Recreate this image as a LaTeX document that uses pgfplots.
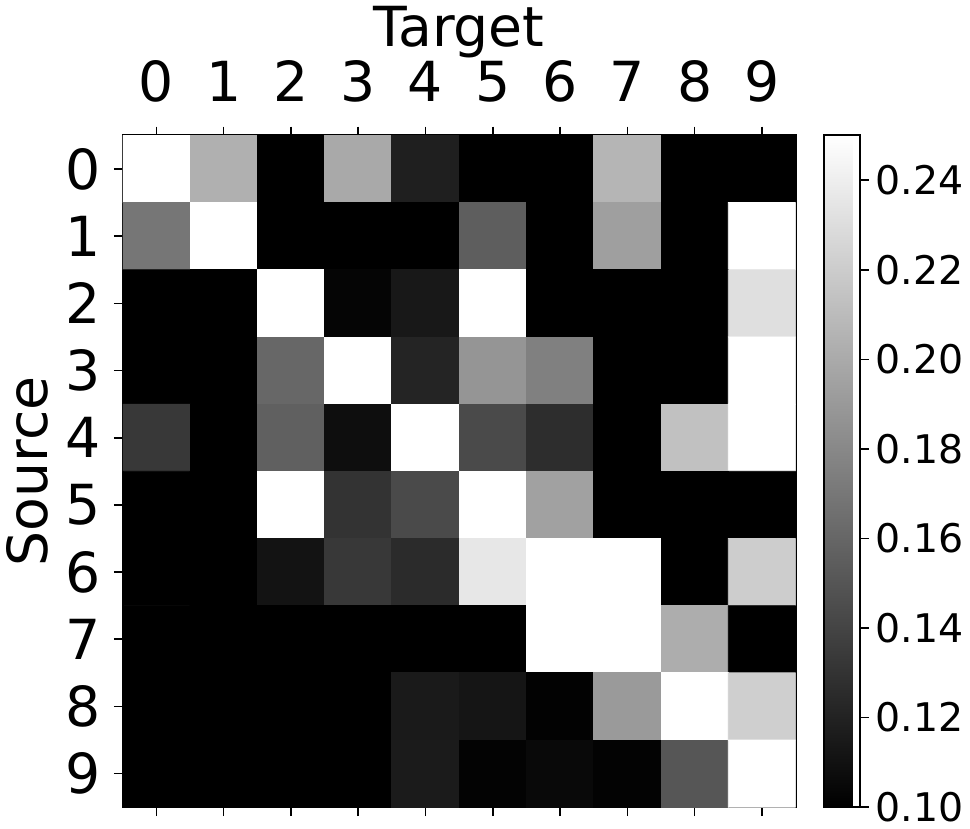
\documentclass[border=0pt]{standalone}
\usepackage{fontspec}
\setmainfont{DejaVu Sans}
\usepackage{pgfplots}
\pgfplotsset{compat=1.18}
\begin{document}
\begin{tikzpicture}
\begin{axis}[
  scale only axis, width=341pt, height=340.5pt,
  xmin=-0.5, xmax=9.5, ymin=-0.5, ymax=9.5, y dir=reverse,
  xtick={0,...,9}, ytick={0,...,9},
  xticklabel pos=right,
  xtick pos=both, ytick pos=left, tick align=outside,
  major tick length=4.5pt,
  xticklabel shift=9pt, yticklabel shift=3pt,
  every tick/.style={black, line width=0.8pt},
  axis line style={line width=1pt},
  xlabel={Target}, ylabel={Source},
  xlabel style={at={([yshift=-6pt]ticklabel cs:0.5)}},
  ylabel style={at={([xshift=-2pt]ticklabel cs:0.5)}},
  ticklabel style={font=\fontsize{28}{30}\selectfont},
  label style={font=\fontsize{28}{30}\selectfont},
  /pgf/number format/assume math mode=true,
  colormap/blackwhite,
  point meta min=0.10, point meta max=0.25,
  colorbar,
  colorbar style={
    width=18pt,
    at={(parent axis.north east)}, anchor=north west, xshift=6pt,
    ytick={0.10,0.12,0.14,0.16,0.18,0.20,0.22,0.24},
    ytick pos=right, yticklabel pos=right, tick align=outside,
    major tick length=4.5pt,
    yticklabel shift=0pt,
    every tick/.style={black, line width=0.8pt},
    axis line style={line width=1pt},
    yticklabel style={font=\fontsize{20}{22}\selectfont,
      /pgf/number format/.cd, fixed, fixed zerofill, precision=2, assume math mode=true},
  },
]
\addplot[matrix plot*, mesh/cols=10, point meta=explicit] table[meta=c] {
x y c
0 0 0.25
1 0 0.203
2 0 0.10
3 0 0.199
4 0 0.118
5 0 0.10
6 0 0.10
7 0 0.206
8 0 0.10
9 0 0.10
0 1 0.169
1 1 0.25
2 1 0.10
3 1 0.10
4 1 0.10
5 1 0.155
6 1 0.10
7 1 0.193
8 1 0.10
9 1 0.25
0 2 0.10
1 2 0.10
2 2 0.25
3 2 0.103
4 2 0.114
5 2 0.25
6 2 0.10
7 2 0.10
8 2 0.10
9 2 0.230
0 3 0.10
1 3 0.10
2 3 0.160
3 3 0.25
4 3 0.121
5 3 0.187
6 3 0.175
7 3 0.10
8 3 0.10
9 3 0.25
0 4 0.133
1 4 0.10
2 4 0.156
3 4 0.108
4 4 0.25
5 4 0.143
6 4 0.126
7 4 0.10
8 4 0.213
9 4 0.25
0 5 0.10
1 5 0.10
2 5 0.25
3 5 0.130
4 5 0.143
5 5 0.25
6 5 0.194
7 5 0.10
8 5 0.10
9 5 0.10
0 6 0.10
1 6 0.10
2 6 0.111
3 6 0.133
4 6 0.125
5 6 0.235
6 6 0.25
7 6 0.25
8 6 0.10
9 6 0.220
0 7 0.10
1 7 0.10
2 7 0.10
3 7 0.10
4 7 0.10
5 7 0.10
6 7 0.25
7 7 0.25
8 7 0.201
9 7 0.10
0 8 0.10
1 8 0.10
2 8 0.10
3 8 0.10
4 8 0.115
5 8 0.112
6 8 0.101
7 8 0.190
8 8 0.25
9 8 0.221
0 9 0.10
1 9 0.10
2 9 0.10
3 9 0.10
4 9 0.116
5 9 0.102
6 9 0.105
7 9 0.102
8 9 0.150
9 9 0.25
};
\end{axis}
\end{tikzpicture}
\end{document}
